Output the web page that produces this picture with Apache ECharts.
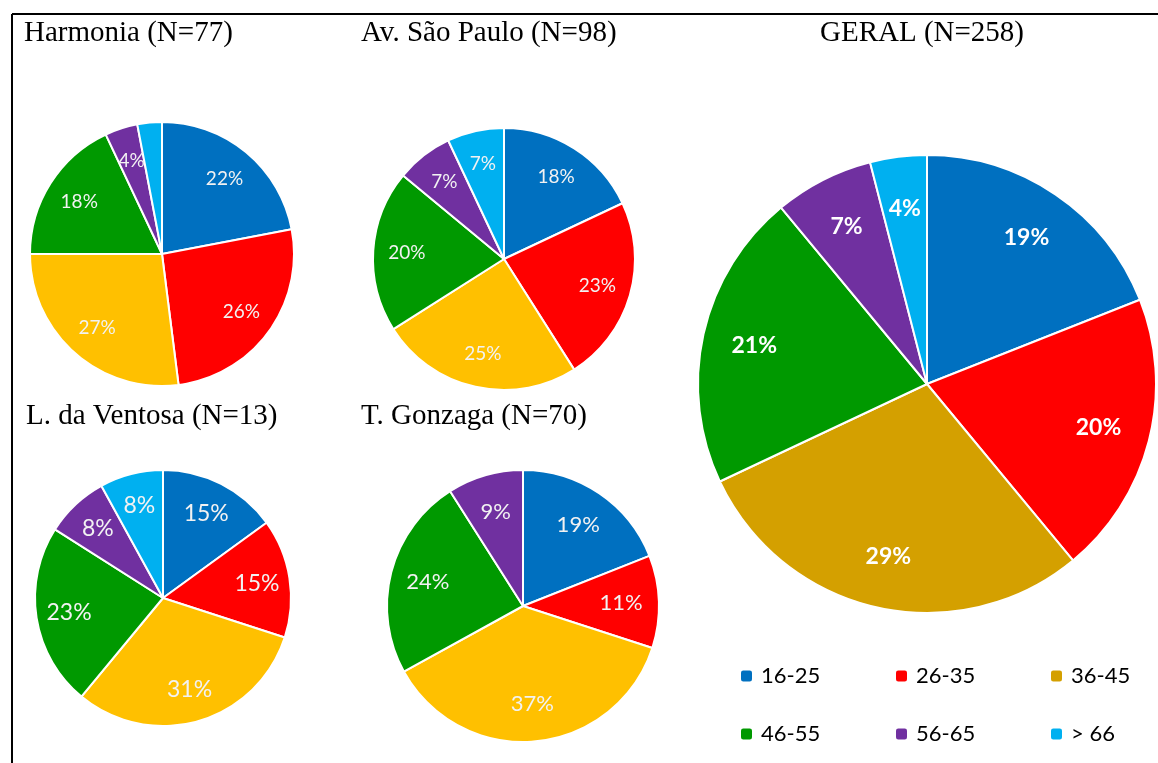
<!DOCTYPE html>
<html>
<head>
<meta charset="utf-8">
<script src="https://cdn.jsdelivr.net/npm/echarts@6/dist/echarts.min.js"></script>
<style>
  html, body { margin: 0; padding: 0; background: #fff; }
  #main { width: 1158px; height: 763px; }
</style>
</head>
<body>
<div id="main"></div>
<script>
// faixas etárias
const ageGroups = ['16-25', '26-35', '36-45', '46-55', '56-65', '> 66'];
// percentuais por local
const harmonia = [22, 26, 27, 18, 4, 3];
const saoPaulo = [18, 23, 25, 20, 7, 7];
const ventosa = [15, 15, 31, 23, 8, 8];
const gonzaga = [19, 11, 37, 24, 9, 0];
const geral = [19, 20, 29, 21, 7, 4];
const titles = ['Harmonia (N=77)', 'Av. São Paulo (N=98)', 'L. da Ventosa (N=13)', 'T. Gonzaga (N=70)', 'GERAL (N=258)'];

const colors = ['#0070C0', '#FF0000', '#FFC000', '#009900', '#7030A0', '#00B0F0'];
const geralColors = ['#0070C0', '#FF0000', '#D4A000', '#009900', '#7030A0', '#00B0F0'];

const chart = echarts.init(document.getElementById('main'));

function toData(values, cols) {
  return values.map((v, i) => ({ name: ageGroups[i], value: v, itemStyle: { color: cols[i] } }));
}

// one pie for the slices, one transparent ring on top for the labels
// (label sits in the middle of the ring, i.e. at k * r)
function pieSeries(values, center, r, cols, k, fontSize, bold) {
  return [
    {
      type: 'pie',
      center: center,
      radius: [0, r],
      startAngle: 90,
      silent: true,
      data: toData(values, cols),
      itemStyle: { borderColor: '#fff', borderWidth: 2 },
      label: { show: false },
      labelLine: { show: false },
      emphasis: { disabled: true }
    },
    {
      type: 'pie',
      center: center,
      radius: [r * (2 * k - 1), r],
      startAngle: 90,
      silent: true,
      data: values.map((v, i) => ({ name: ageGroups[i], value: v })),
      itemStyle: { color: 'rgba(0,0,0,0)' },
      label: {
        show: true,
        position: 'inside',
        formatter: p => p.value ? p.value + '%' : '',
        color: bold ? '#fff' : '#f2f2f2',
        fontFamily: 'Lato',
        fontSize: fontSize,
        fontWeight: bold ? 'bold' : 'normal'
      },
      labelLine: { show: false },
      emphasis: { disabled: true }
    }
  ];
}

const titlePos = [[24, 19], [361, 19], [26, 402], [361, 402], [820, 19]];

const legendCols = [739, 894, 1049];
const legendRows = [665, 723];

let option = {
  backgroundColor: '#fff',
  animation: false,
  title: titles.map((t, i) => ({
    text: t,
    left: titlePos[i][0],
    top: titlePos[i][1],
    padding: 0,
    textStyle: { fontFamily: 'Liberation Serif', fontSize: 29, fontWeight: 'normal', color: '#000' }
  })),
  legend: ageGroups.map((n, i) => ({
    data: [{ name: n, itemStyle: { color: geralColors[i] } }],
    left: legendCols[i % 3],
    top: legendRows[Math.floor(i / 3)],
    itemWidth: 13, itemHeight: 13, padding: 0,
    selectedMode: false,
    textStyle: { fontFamily: 'Lato', fontSize: 22, color: '#000', padding: [0, 0, 0, 3] }
  })),
  graphic: [
    { type: 'line', shape: { x1: 12, y1: 14, x2: 1158, y2: 14 }, style: { stroke: '#000', lineWidth: 2 } },
    { type: 'line', shape: { x1: 12, y1: 14, x2: 12, y2: 763 }, style: { stroke: '#000', lineWidth: 2 } }
  ],
  series: [].concat(
    pieSeries(harmonia, [162, 254], 132, colors, 0.72, 19, false),
    pieSeries(saoPaulo, [504, 259], 131, colors, 0.72, 19, false),
    pieSeries(ventosa, [163, 598], 128, colors, 0.72, 23, false),
    pieSeries(gonzaga, [523, 606], 136, colors, 0.70, 22, false),
    pieSeries(geral, [927, 384], 229, geralColors, 0.76, 23, true)
  )
};

option && chart.setOption(option);
</script>
</body>
</html>
